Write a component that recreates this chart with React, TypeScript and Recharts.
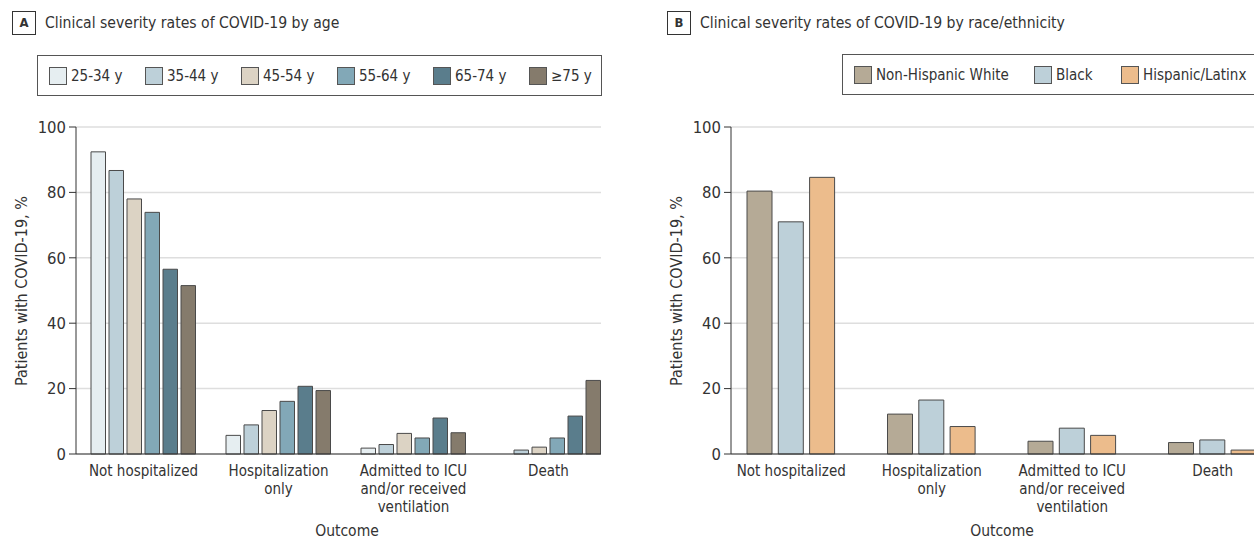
import { BarChart, Bar, XAxis, YAxis, CartesianGrid } from 'recharts';

const FONT = '"DejaVu Sans Condensed", "DejaVu Sans", sans-serif';
const INK = '#333';

// outcomes on the x axis
const outcomes = ['Not hospitalized', 'Hospitalization only', 'Admitted to ICU and/or received ventilation', 'Death'];
const outcomeLines = [
  ['Not hospitalized'],
  ['Hospitalization', 'only'],
  ['Admitted to ICU', 'and/or received', 'ventilation'],
  ['Death'],
];
const yTicks = [0, 20, 40, 60, 80, 100];

// panel A, % by age group
const age2534 = [92.4, 5.7, 1.8, 0];
const age3544 = [86.7, 8.9, 2.9, 1.2];
const age4554 = [78.0, 13.3, 6.3, 2.1];
const age5564 = [73.9, 16.1, 4.9, 4.9];
const age6574 = [56.5, 20.7, 11.0, 11.6];
const age75 = [51.5, 19.4, 6.5, 22.5];

// panel B, % by race/ethnicity
const white = [80.4, 12.2, 3.9, 3.5];
const black = [71.0, 16.5, 7.9, 4.3];
const hispanic = [84.6, 8.4, 5.7, 1.2];

const ageSeries = [
  { key: 'a1', name: '25-34 y', values: age2534, color: '#E6EEF1' },
  { key: 'a2', name: '35-44 y', values: age3544, color: '#BDD0D9' },
  { key: 'a3', name: '45-54 y', values: age4554, color: '#DCD3C4' },
  { key: 'a4', name: '55-64 y', values: age5564, color: '#82A8B7' },
  { key: 'a5', name: '65-74 y', values: age6574, color: '#5A7D8C' },
  { key: 'a6', name: '≥75 y', values: age75, color: '#857B6C' },
];

const raceSeries = [
  { key: 'r1', name: 'Non-Hispanic White', values: white, color: '#B5AA96' },
  { key: 'r2', name: 'Black', values: black, color: '#BDD0D9' },
  { key: 'r3', name: 'Hispanic/Latinx', values: hispanic, color: '#ECBC8C' },
];

const buildRows = (series: { key: string; values: number[] }[]) =>
  outcomes.map((outcome, i) => {
    const row: Record<string, string | number> = { outcome };
    series.forEach((s) => {
      row[s.key] = s.values[i];
    });
    return row;
  });

const ageData = buildRows(ageSeries);
const raceData = buildRows(raceSeries);

const OutcomeTick = (props: any) => {
  const { x, y, payload } = props;
  const lines = outcomeLines[payload.index] || [String(payload.value)];
  return (
    <text x={x} y={y + 22} textAnchor="middle" fill={INK} fontSize={15} fontFamily={FONT}>
      {lines.map((line, i) => (
        <tspan key={i} x={x} dy={i === 0 ? 0 : 18}>
          {line}
        </tspan>
      ))}
    </text>
  );
};

const Heading = ({ left, letter, title }: { left: number; letter: string; title: string }) => (
  <>
    <div
      style={{
        position: 'absolute', left, top: 11, width: 22, height: 22, border: `1px solid ${INK}`,
        textAlign: 'center', lineHeight: '22px', fontSize: 13, fontWeight: 'bold',
      }}
    >
      {letter}
    </div>
    <div style={{ position: 'absolute', left: left + 33, top: 11, lineHeight: '24px', fontSize: 15.6, whiteSpace: 'nowrap' }}>
      {title}
    </div>
  </>
);

const LegendBox = ({ left, top, width, items }: { left: number; top: number; width: number; items: { name: string; color: string; x: number }[] }) => (
  <div style={{ position: 'absolute', left, top, width, height: 39, border: '1px solid #555' }}>
    {items.map((it) => (
      <div key={it.name}>
        <div
          style={{
            position: 'absolute', left: it.x - left, top: 11, width: 18, height: 18,
            background: it.color, border: '1px solid #555', boxSizing: 'border-box',
          }}
        />
        <div style={{ position: 'absolute', left: it.x - left + 22, top: 11, lineHeight: '18px', fontSize: 15, whiteSpace: 'nowrap' }}>
          {it.name}
        </div>
      </div>
    ))}
  </div>
);

const YLabel = ({ x }: { x: number }) => (
  <div
    style={{
      position: 'absolute', left: x, top: 291, fontSize: 16, lineHeight: '18px', whiteSpace: 'nowrap',
      transform: 'translate(-50%, -50%) rotate(-90deg)',
    }}
  >
    Patients with COVID-19, %
  </div>
);

const XLabel = ({ x }: { x: number }) => (
  <div style={{ position: 'absolute', left: x, top: 521, fontSize: 15.5, lineHeight: '20px', transform: 'translateX(-50%)' }}>
    Outcome
  </div>
);

const axisProps = {
  stroke: INK,
  tick: { fill: INK, fontSize: 16.5, fontFamily: FONT },
};

export default function App() {
  return (
    <div
      style={{
        position: 'absolute', left: 0, top: 0, width: 1254, height: 540, overflow: 'hidden',
        background: '#fff', fontFamily: FONT, color: INK,
      }}
    >
      <Heading left={12} letter="A" title="Clinical severity rates of COVID-19 by age" />
      <Heading left={667} letter="B" title="Clinical severity rates of COVID-19 by race/ethnicity" />

      <LegendBox
        left={37}
        top={55}
        width={563}
        items={ageSeries.map((s, i) => ({ name: s.name, color: s.color, x: 48 + i * 96 }))}
      />
      <LegendBox
        left={842}
        top={54}
        width={440}
        items={raceSeries.map((s, i) => ({ name: s.name, color: s.color, x: [853, 1033, 1120][i] }))}
      />

      <div style={{ position: 'absolute', left: 0, top: 0 }}>
        <BarChart width={620} height={540} data={ageData} margin={{ top: 127, right: 19, bottom: 26, left: 16 }} barSize={14.5} barGap={3.5}>
          <CartesianGrid vertical={false} stroke="#dedede" strokeWidth={1.5} />
          <XAxis
            dataKey="outcome"
            height={60}
            interval={0}
            tickLine={false}
            tickSize={0}
            tickMargin={0}
            stroke={INK}
            tick={<OutcomeTick />}
            padding={{ left: 0, right: -15 }}
          />
          <YAxis type="number" domain={[0, 100]} ticks={yTicks} width={60} tickSize={7} tickMargin={3} {...axisProps} />
          {ageSeries.map((s) => (
            <Bar key={s.key} dataKey={s.key} name={s.name} fill={s.color} stroke="#4a4a4a" strokeWidth={1} isAnimationActive={false} />
          ))}
        </BarChart>
      </div>

      <div style={{ position: 'absolute', left: 640, top: 0 }}>
        <BarChart width={640} height={540} data={raceData} margin={{ top: 127, right: 0, bottom: 26, left: 31 }} barSize={25} barGap={6.3}>
          <CartesianGrid vertical={false} stroke="#dedede" strokeWidth={1.5} />
          <XAxis
            dataKey="outcome"
            height={60}
            interval={0}
            tickLine={false}
            tickSize={0}
            tickMargin={0}
            stroke={INK}
            tick={<OutcomeTick />}
            padding={{ left: -10, right: -3 }}
          />
          <YAxis type="number" domain={[0, 100]} ticks={yTicks} width={60} tickSize={7} tickMargin={3} {...axisProps} />
          {raceSeries.map((s) => (
            <Bar key={s.key} dataKey={s.key} name={s.name} fill={s.color} stroke="#4a4a4a" strokeWidth={1} isAnimationActive={false} />
          ))}
        </BarChart>
      </div>

      <YLabel x={22} />
      <YLabel x={677} />
      <XLabel x={347} />
      <XLabel x={1002} />
    </div>
  );
}
